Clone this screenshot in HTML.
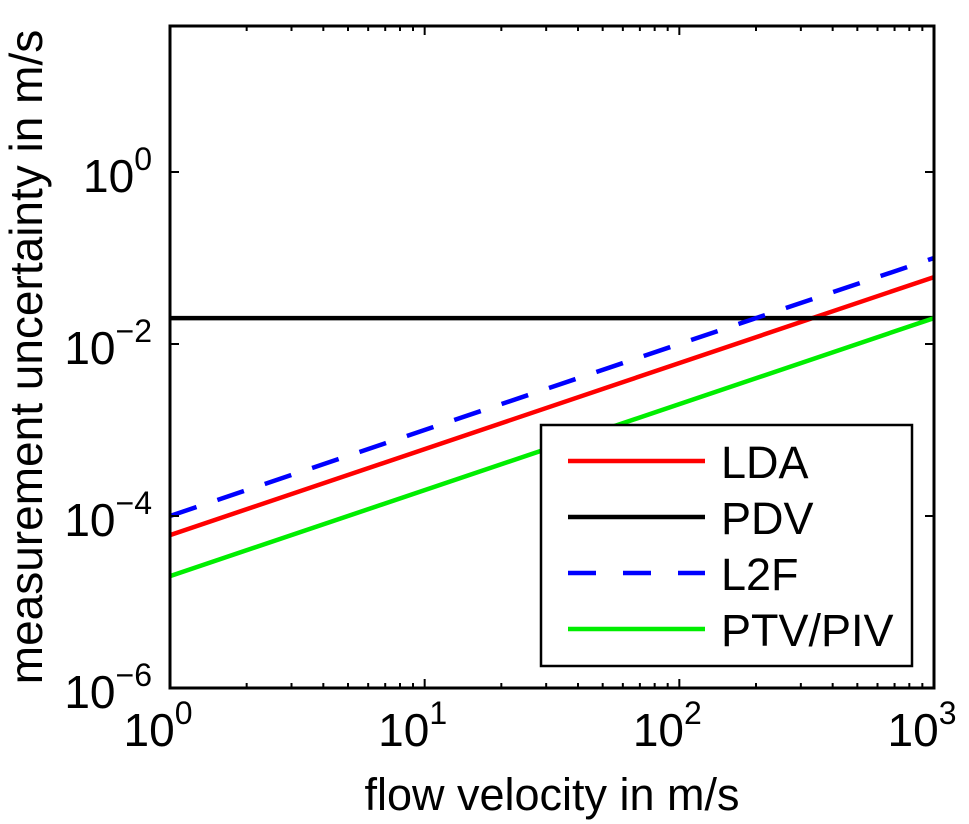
<!DOCTYPE html>
<html><head><meta charset="utf-8"><style>
body{margin:0;background:#fff;}
svg{display:block;font-family:"Liberation Sans",Arial,sans-serif;}
</style></head><body>
<svg id="chart" width="969" height="824">
<rect width="969" height="824" fill="#fff"/>
<g id="grid"></g>
<g id="series"></g>
<g id="axes"></g>
<text x="552" y="810" font-size="45" text-anchor="middle" fill="#000">flow velocity in m/s</text>
<text transform="translate(42,357) rotate(-90)" font-size="46" text-anchor="middle" fill="#000">measurement uncertainty in m/s</text>
<g>
<rect x="541" y="425" width="371" height="241" fill="#fff" stroke="#000" stroke-width="2.5"/>
<g id="legend"></g>
</g>
</svg>
<script>
const seriesNames=["LDA","PDV","L2F","PTV/PIV"];
const seriesColors=["#ff0000","#000000","#0000ff","#00ee00"];
const xValues=[1,1000];
const ldaValues=[6e-5,0.06];
const pdvValues=[0.02,0.02];
const l2fValues=[1e-4,0.1];
const ptvValues=[2e-5,0.02];
const xTickExps=[0,1,2,3];
const yTickExps=[-6,-4,-2,0];
const allSeries=[ldaValues,pdvValues,l2fValues,ptvValues];
const NS="http://www.w3.org/2000/svg";
const L=170,R=934,T=26,B=688;
const xMin=0,xMax=3, yMin=-6, pxPerDecY=86;
function xs(v){return L+(Math.log10(v)-xMin)/(xMax-xMin)*(R-L);}
function ys(v){return B-(Math.log10(v)-yMin)*pxPerDecY;}
function mk(t,a,p){const e=document.createElementNS(NS,t);for(const k in a)e.setAttribute(k,a[k]);(p||document.getElementById('axes')).appendChild(e);return e;}
const sg=document.getElementById('series');
allSeries.forEach((vals,i)=>{
  const d=xValues.map((x,j)=>(j?'L':'M')+xs(x)+','+ys(vals[j])).join(' ');
  const p=mk('path',{d:d,fill:'none',stroke:seriesColors[i],'stroke-width':4.5},sg);
  if(i===2)p.setAttribute('stroke-dasharray','28,22');
  
  
});
const frame=mk('rect',{x:L,y:T,width:R-L,height:B-T,fill:'none',stroke:'#000','stroke-width':3});


xTickExps.forEach(e=>{
  const x=xs(Math.pow(10,e));
  mk('line',{x1:x,x2:x,y1:B,y2:B-9,stroke:'#000','stroke-width':2});
  mk('line',{x1:x,x2:x,y1:T,y2:T+9,stroke:'#000','stroke-width':2});
  const t=mk('text',{x:x-12,y:B+58,'font-size':46,'text-anchor':'middle',fill:'#000'});
  
  
  t.innerHTML='10<tspan dy="-22" font-size="32">'+e+'</tspan>';
  if(e<3)for(let m=2;m<10;m++){const xm=xs(m*Math.pow(10,e));
    mk('line',{x1:xm,x2:xm,y1:B,y2:B-5,stroke:'#000','stroke-width':2});
    mk('line',{x1:xm,x2:xm,y1:T,y2:T+5,stroke:'#000','stroke-width':2});}
});
yTickExps.forEach(e=>{
  const y=ys(Math.pow(10,e));
  mk('line',{x1:L,x2:L+9,y1:y,y2:y,stroke:'#000','stroke-width':2});
  mk('line',{x1:R,x2:R-9,y1:y,y2:y,stroke:'#000','stroke-width':2});
  const t=mk('text',{x:L-18,y:y+20,'font-size':46,'text-anchor':'end',fill:'#000'});
  
  
  t.innerHTML='10<tspan dy="-22" font-size="32">'+(e<0?'\u2212'+(-e):e)+'</tspan>';
});
const lg=document.getElementById('legend');
seriesNames.forEach((n,i)=>{
  const y=461+i*56;
  const l=mk('line',{x1:568,x2:705,y1:y,y2:y,stroke:seriesColors[i],'stroke-width':4.5},lg);
  if(i===2)l.setAttribute('stroke-dasharray','28,27');
  
  
  const t=mk('text',{x:721,y:y+17,'font-size':45,fill:'#000'},lg);
  t.textContent=n;
  
  
});
</script>
</body></html>
